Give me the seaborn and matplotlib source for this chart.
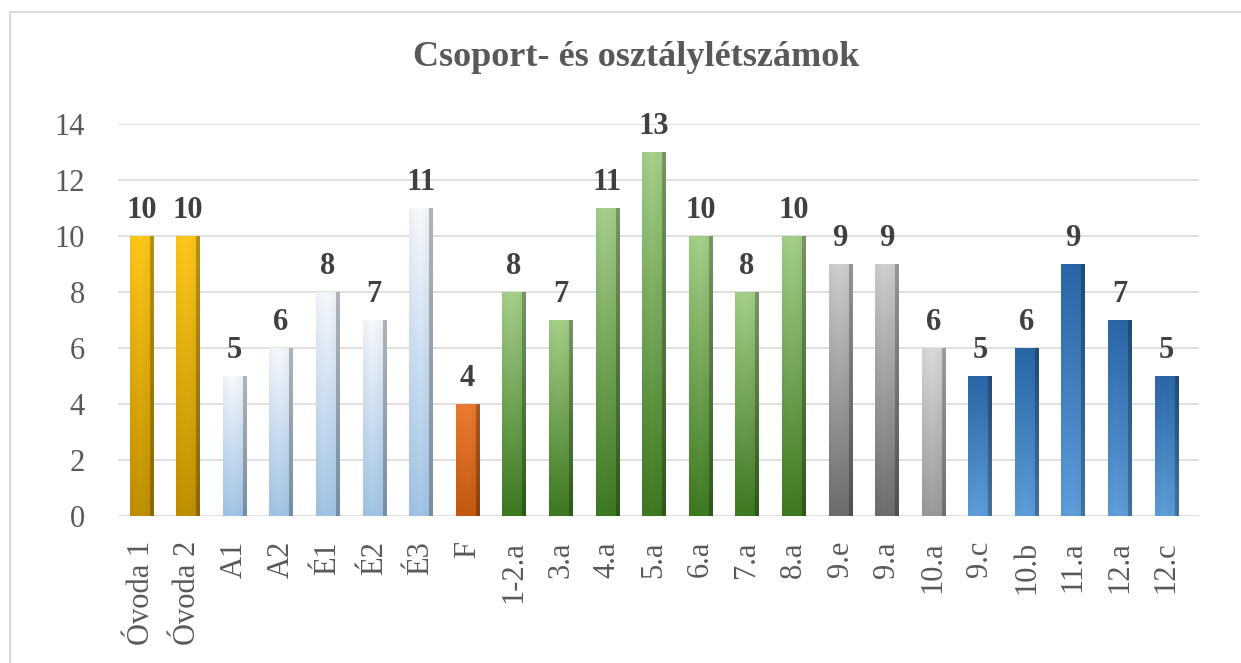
import numpy as np
import pandas as pd
import matplotlib
matplotlib.use("Agg")
import matplotlib.pyplot as plt
import seaborn as sns
from matplotlib.colors import to_rgb
from matplotlib.lines import Line2D

# data
categories = ["Óvoda 1", "Óvoda 2", "A1", "A2", "É1", "É2", "É3", "F",
              "1-2.a", "3.a", "4.a", "5.a", "6.a", "7.a", "8.a",
              "9.e", "9.a", "10.a", "9.c", "10.b", "11.a", "12.a", "12.c"]
values = [10, 10, 5, 6, 8, 7, 11, 4, 8, 7, 11, 13, 10, 8, 10, 9, 9, 6, 5, 6, 9, 7, 5]
groups = ["ovoda"] * 2 + ["lightblue"] * 5 + ["orange"] + ["green"] * 7 + \
         ["gray"] * 2 + ["lightgray"] + ["blue"] * 5
title = "Csoport- és osztálylétszámok"

# (top colour, bottom colour) for each group
group_colors = {
    "ovoda": ("#FFC81A", "#C09000"),
    "lightblue": ("#F6F9FE", "#A2C5E6"),
    "orange": ("#EC7D30", "#C55A11"),
    "green": ("#A6D08A", "#3E7A22"),
    "gray": ("#CFCFCF", "#6E6E6E"),
    "lightgray": ("#DADADA", "#9A9A9A"),
    "blue": ("#2B67A8", "#5E9EDA"),
}

df = pd.DataFrame({"cat": categories, "val": values, "grp": groups})

sns.set_style("white")
plt.rcParams["font.family"] = ["Liberation Serif", "DejaVu Serif"]

fig = plt.figure(figsize=(12.41, 6.63), dpi=100)
ax = fig.add_axes([0.0951, 0.2217, 0.871, 0.5913])

palette = [group_colors[g][1] for g in groups]
sns.barplot(data=df, x="cat", y="val", hue="cat", palette=palette,
            legend=False, width=0.5, ax=ax, zorder=3)

# gradient fill + darker side strip to mimic the 3D look
for patch, g in zip(ax.patches, groups):
    top, bot = (np.array(to_rgb(c)) for c in group_colors[g])
    ny, nx = 64, 24
    v = np.linspace(0, 1, ny)[:, None, None]
    img = top * (1 - v) + bot * v
    img = np.repeat(img, nx, axis=1)
    u = np.linspace(0, 1, nx)
    shade = np.where(u > 0.86, 0.72, 1.0 - 0.08 * np.abs(u - 0.4))
    img = np.clip(img * shade[None, :, None], 0, 1)
    x0, y0 = patch.get_x(), patch.get_y()
    w, h = patch.get_width(), patch.get_height()
    im = ax.imshow(img, extent=[x0, x0 + w, y0, y0 + h], aspect="auto",
                   origin="upper", zorder=4, interpolation="bilinear")
    im.set_clip_path(patch)
    patch.set_edgecolor("none")

for cont in ax.containers:
    ax.bar_label(cont, fmt="%d", padding=8, fontsize=22, fontweight="bold",
                 color="#404040", zorder=5)

ax.set_xlim(-0.5, 22.7)
ax.set_ylim(0, 14)
ax.set_yticks(range(0, 15, 2))
ax.set_xlabel("")
ax.set_ylabel("")
ax.yaxis.grid(True, color="#D9D9D9", linewidth=1.2, zorder=0)
ax.set_axisbelow(True)
for s in ax.spines.values():
    s.set_visible(False)
ax.tick_params(axis="y", length=0, pad=24, labelsize=22, labelcolor="#595959")
ax.tick_params(axis="x", length=0, pad=18, labelsize=22, labelcolor="#595959",
               labelrotation=90)

fig.text(0.5125, 0.914, title, ha="center", va="center", fontsize=26,
         fontweight="bold", color="#595959")

# chart frame (left and top edges visible)
fig.add_artist(Line2D([10 / 1241, 10 / 1241], [0, 1 - 12 / 663],
                      transform=fig.transFigure, color="#D9D9D9", lw=1.5))
fig.add_artist(Line2D([10 / 1241, 1], [1 - 12 / 663, 1 - 12 / 663],
                      transform=fig.transFigure, color="#D9D9D9", lw=1.5))

fig.savefig("out.png", dpi=100)
